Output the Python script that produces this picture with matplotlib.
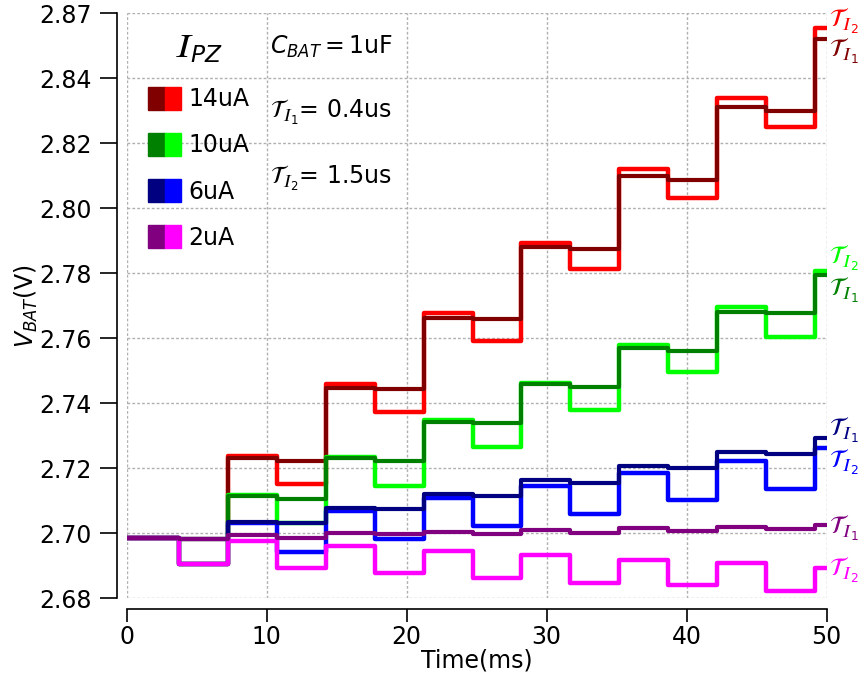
import matplotlib
matplotlib.use("Agg")
import matplotlib.pyplot as plt
from matplotlib.patches import Patch
from matplotlib.legend_handler import HandlerTuple

# step edges of the simulated battery voltage (ms)
time_ms = [0, 3.7, 7.2, 10.7, 14.2, 17.7, 21.2, 24.7, 28.2, 31.7, 35.2, 38.7, 42.2, 45.7, 49.2, 50]

# V_BAT per interval, tau_I1 = 0.4us and tau_I2 = 1.5us
v14_t1 = [2.6987, 2.6983, 2.7233, 2.7221, 2.7448, 2.7443, 2.7664, 2.7658, 2.7880, 2.7874, 2.8098, 2.8088, 2.8311, 2.8300, 2.8522]
v14_t2 = [2.6987, 2.6905, 2.7239, 2.7151, 2.7458, 2.7372, 2.7677, 2.7592, 2.7894, 2.7812, 2.8122, 2.8031, 2.8338, 2.8251, 2.8555]
v10_t1 = [2.6987, 2.6983, 2.7116, 2.7106, 2.7233, 2.7223, 2.7342, 2.7338, 2.7458, 2.7451, 2.7571, 2.7561, 2.7682, 2.7677, 2.7795]
v10_t2 = [2.6987, 2.6905, 2.7119, 2.7033, 2.7236, 2.7147, 2.7349, 2.7265, 2.7464, 2.7379, 2.7579, 2.7495, 2.7697, 2.7603, 2.7807]
v6_t1 = [2.6987, 2.6983, 2.7036, 2.7031, 2.7077, 2.7074, 2.7120, 2.7116, 2.7164, 2.7154, 2.7208, 2.7200, 2.7251, 2.7243, 2.7294]
v6_t2 = [2.6987, 2.6905, 2.7031, 2.6944, 2.7070, 2.6983, 2.7108, 2.7023, 2.7146, 2.7058, 2.7185, 2.7102, 2.7222, 2.7135, 2.7262]
v2_t1 = [2.6987, 2.6983, 2.6995, 2.6987, 2.7002, 2.6998, 2.7005, 2.6997, 2.7010, 2.7002, 2.7015, 2.7007, 2.7020, 2.7012, 2.7025]
v2_t2 = [2.6987, 2.6905, 2.6977, 2.6892, 2.6962, 2.6877, 2.6947, 2.6862, 2.6933, 2.6848, 2.6919, 2.6841, 2.6908, 2.6823, 2.6894]

currents = ['14uA', '10uA', '6uA', '2uA']
dark_colors = ['#800000', '#008000', '#000080', '#800080']
bright_colors = ['#ff0000', '#00ff00', '#0000ff', '#ff00ff']
series_t1 = [v14_t1, v10_t1, v6_t1, v2_t1]
series_t2 = [v14_t2, v10_t2, v6_t2, v2_t2]

# label offsets (points) for the end-of-line tags
off_t1 = [-9, -11, 5, -2]
off_t2 = [5, 9, -10, -2]

y_ticks = [2.68, 2.70, 2.72, 2.74, 2.76, 2.78, 2.80, 2.82, 2.84, 2.86]
y_labels = ['2.68', '2.70', '2.72', '2.74', '2.76', '2.78', '2.80', '2.82', '2.84', '2.87']
x_ticks = [0, 10, 20, 30, 40, 50]

fig = plt.figure(figsize=(8.65, 6.75), dpi=100)
ax = fig.add_axes([0.1465, 0.1136, 0.8092, 0.8667])

for vt1, vt2, cd, cb in zip(series_t1, series_t2, dark_colors, bright_colors):
    ax.plot(time_ms, vt2 + [vt2[-1]], drawstyle='steps-post', color=cb, lw=3.2)
    ax.plot(time_ms, vt1 + [vt1[-1]], drawstyle='steps-post', color=cd, lw=3.0)

tag1 = r'$\mathcal{T}_{𝐼_1}$'
tag2 = r'$\mathcal{T}_{𝐼_2}$'
for i in range(4):
    ax.annotate(tag1, xy=(time_ms[-1], series_t1[i][-1]),
                xytext=(2, off_t1[i]), textcoords='offset points',
                color=dark_colors[i], fontsize=18, ha='left', va='center',
                annotation_clip=False)
    ax.annotate(tag2, xy=(time_ms[-1], series_t2[i][-1]),
                xytext=(2, off_t2[i]), textcoords='offset points',
                color=bright_colors[i], fontsize=18, ha='left', va='center',
                annotation_clip=False)

ax.set_xlim(0, 50)
ax.set_ylim(2.68, 2.86)
ax.set_xticks(x_ticks)
ax.set_yticks(y_ticks)
ax.set_yticklabels(y_labels)
ax.tick_params(labelsize=17, length=12, width=1.2, pad=6)
ax.tick_params(axis='x', length=9, pad=2)
ax.grid(True, color='#b0b0b0', ls=(0, (2, 1.5)), lw=1)

for s in ['top', 'right']:
    ax.spines[s].set_visible(False)
ax.spines['left'].set_position(('outward', 7))
ax.spines['bottom'].set_position(('outward', 8))
ax.spines['left'].set_bounds(2.68, 2.86)
ax.spines['left'].set_linewidth(1.2)
ax.spines['bottom'].set_linewidth(1.2)

ax.set_xlabel('Time(ms)', fontsize=17, labelpad=0)
ax.set_ylabel(r'$V_{BAT}$(V)', fontsize=17, labelpad=0)

ax.text(0.205, 0.942, r'$C_{BAT}=$1uF', transform=ax.transAxes, fontsize=17, va='center')
ax.text(0.205, 0.83, tag1 + '= 0.4us', transform=ax.transAxes, fontsize=17, va='center')
ax.text(0.205, 0.718, tag2 + '= 1.5us', transform=ax.transAxes, fontsize=17, va='center')

handles = [(Patch(color=cd), Patch(color=cb)) for cd, cb in zip(dark_colors, bright_colors)]
leg = ax.legend(handles, currents, handler_map={tuple: HandlerTuple(ndivide=None, pad=0)},
                loc='upper left', bbox_to_anchor=(0.0, 1.005), frameon=False,
                fontsize=17, title=r'$𝐼_{PZ}$', title_fontsize=24,
                handlelength=1.4, handleheight=1.1, handletextpad=0.3, labelspacing=0.92)

fig.savefig('out.png', dpi=100)
